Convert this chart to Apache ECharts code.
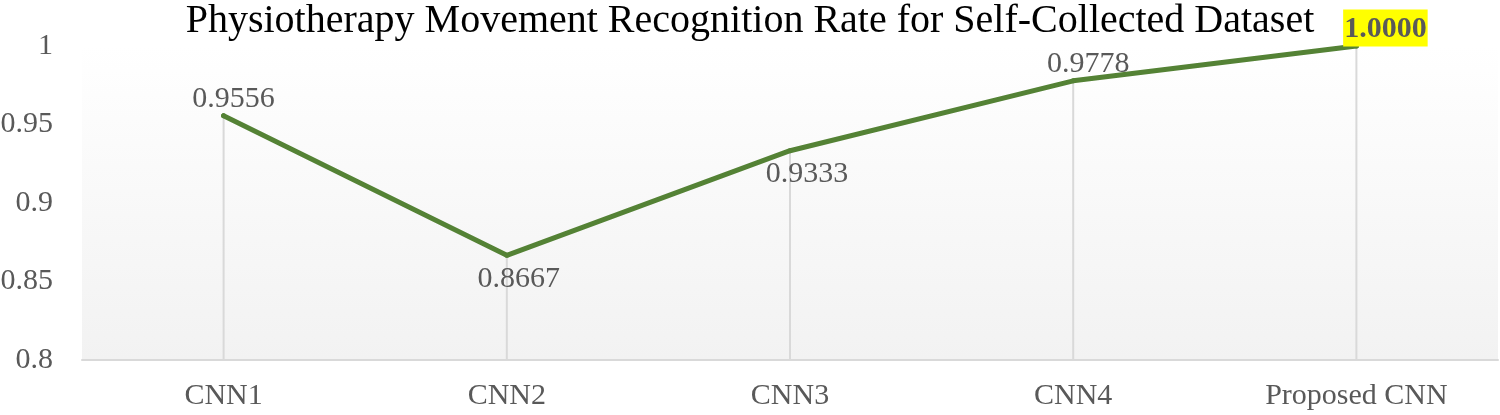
<!DOCTYPE html>
<html>
<head>
<meta charset="utf-8">
<script src="https://cdn.jsdelivr.net/npm/echarts@6/dist/echarts.min.js"></script>
<style>
html,body{margin:0;padding:0;background:#fff;}
#main{width:1500px;height:415px;}
</style>
</head>
<body>
<div id="main"></div>
<script>
var categories = ['CNN1', 'CNN2', 'CNN3', 'CNN4', 'Proposed CNN'];
var rates = [0.9556, 0.8667, 0.9333, 0.9778, 1.0000];
var labelPos = ['top', 'bottom', 'bottom', 'top', 'top'];
var labelShift = [10, 12, 17, 15, 29];

var FONT = '"Liberation Serif", "Times New Roman", serif';

function s(id){ return document.getElementById(id); }

window.onload = function(){
	var myChart = echarts.init(s('main'));
	var lineData = [];
	for (var i = 0; i < rates.length; i++) {
		var d = {
			value: rates[i],
			label: {
				position: labelPos[i],
				distance: labelPos[i] == 'bottom' ? 6 : -1
			}
		};
		if (i == rates.length - 1) {
			d.label.fontWeight = 'bold';
			d.label.backgroundColor = '#ffff00';
			d.label.padding = [5, 1, 2, 1];
			d.label.distance = -3;
		}
		lineData.push(d);
	}
	var option = {
		title: {
			text: 'Physiotherapy Movement Recognition Rate for Self-Collected Dataset',
			left: 'center',
			top: -4,
			textStyle: {fontFamily: FONT, fontSize: 40, fontWeight: 'normal', color: '#000'}
		},
		grid: {
			left: 82, right: 2, top: 46, bottom: 55,
			outerBoundsMode: 'none',
			show: true,
			borderWidth: 0,
			backgroundColor: new echarts.graphic.LinearGradient(0, 0, 0, 1, [
				{offset: 0, color: '#ffffff'},
				{offset: 1, color: '#f2f2f2'}
			])
		},
		xAxis: {
			type: 'category',
			data: categories,
			boundaryGap: true,
			axisLine: {lineStyle: {color: '#d9d9d9', width: 2}},
			axisTick: {show: false},
			axisLabel: {fontFamily: FONT, fontSize: 30, color: '#595959', margin: 21}
		},
		yAxis: {
			type: 'value',
			min: 0.8,
			max: 1,
			interval: 0.05,
			axisLine: {show: false},
			axisTick: {show: false},
			splitLine: {show: false},
			axisLabel: {fontFamily: FONT, fontSize: 30, color: '#595959', margin: 29}
		},
		series: [
			{
				type: 'bar',
				data: rates,
				barWidth: 2,
				silent: true,
				itemStyle: {color: '#d9d9d9'},
				z: 1
			},
			{
				type: 'line',
				data: lineData,
				symbol: 'circle',
				symbolSize: 5,
				showSymbol: true,
				itemStyle: {color: '#548235'},
				lineStyle: {color: '#548235', width: 5, cap: 'round', join: 'round'},
				label: {
					show: true,
					formatter: function(p){ return Number(p.value).toFixed(4); },
					fontFamily: FONT,
					fontSize: 30,
					color: '#595959'
				},
				labelLayout: function(params){
					return {dx: labelShift[params.dataIndex], hideOverlap: false};
				},
				z: 3
			}
		]
	};
	myChart.setOption(option);
};
</script>
</body>
</html>
